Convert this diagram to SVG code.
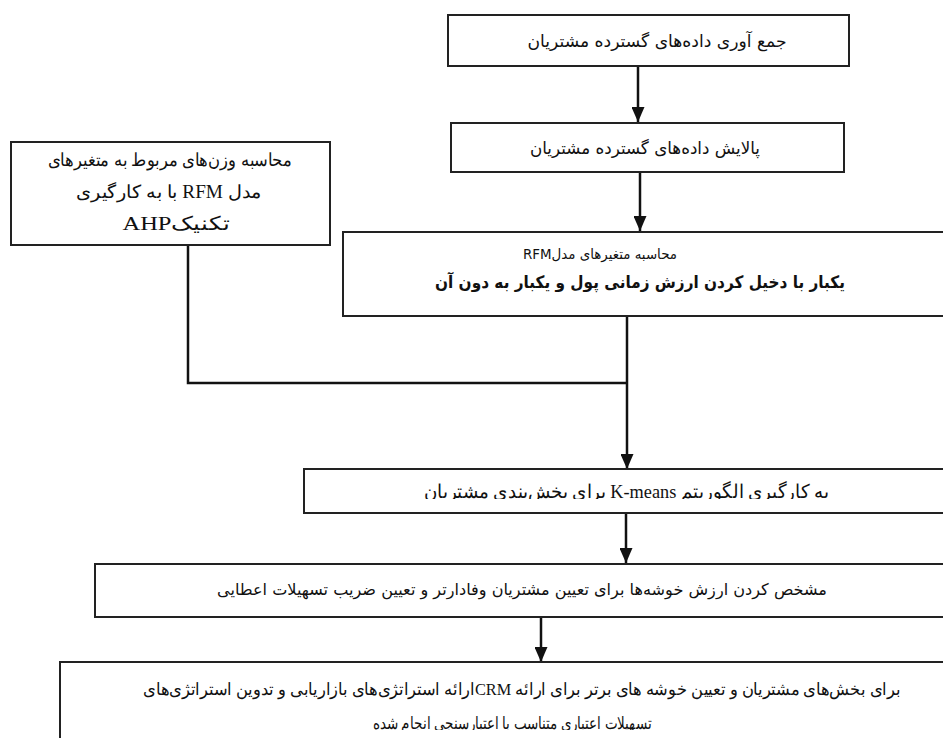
<svg xmlns="http://www.w3.org/2000/svg" width="943" height="738" viewBox="0 0 943 738">
<defs>
<style>
.box{fill:#fff;stroke:#222;stroke-width:2}
.ln{fill:none;stroke:#111;stroke-width:2.5}
.sans{font-family:"DejaVu Sans","Noto Sans",sans-serif;fill:#111}
.ser{font-family:"Liberation Serif","DejaVu Serif",serif;fill:#111}
</style>
<marker id="ah" viewBox="0 0 10 10" refX="10" refY="5" markerWidth="6" markerHeight="5.2" markerUnits="strokeWidth" orient="auto" preserveAspectRatio="none">
<path d="M0,0 L10,5 L0,10 Z" fill="#111"/>
</marker>
<clipPath id="ck"><rect x="300" y="465" width="650" height="34"/></clipPath>
<clipPath id="c7"><rect x="55" y="655" width="890" height="75"/></clipPath>
</defs>
<rect width="943" height="738" fill="#fff"/>
<g id="connectors">
<line class="ln" x1="638" y1="67" x2="638" y2="122" marker-end="url(#ah)"/>
<line class="ln" x1="640" y1="173" x2="640" y2="231" marker-end="url(#ah)"/>
<polyline class="ln" points="188,245 188,383 627,383"/>
<line class="ln" x1="627" y1="317" x2="627" y2="469" marker-end="url(#ah)"/>
<line class="ln" x1="626" y1="514" x2="626" y2="563" marker-end="url(#ah)"/>
<line class="ln" x1="541" y1="618" x2="541" y2="662" marker-end="url(#ah)"/>
</g>
<g id="n1">
<rect class="box" x="448" y="15" width="401" height="51"/>
<text class="sans" x="657" y="47" font-size="17" text-anchor="middle" direction="rtl" textLength="259" lengthAdjust="spacingAndGlyphs">جمع آوری داده‌های گسترده مشتریان</text>
</g>
<g id="n2">
<rect class="box" x="451" y="123" width="393" height="49"/>
<text class="sans" x="645" y="154" font-size="17" text-anchor="middle" direction="rtl" textLength="230" lengthAdjust="spacingAndGlyphs">پالایش داده‌های گسترده مشتریان</text>
</g>
<g id="n3">
<path class="box" d="M946,232 L343,232 L343,316 L946,316"/>
<text class="sans" x="600" y="259" font-size="14" text-anchor="middle" direction="rtl" textLength="154" lengthAdjust="spacingAndGlyphs">محاسبه متغیرهای مدلRFM</text>
<text class="sans" x="640" y="288" font-size="17" font-weight="bold" text-anchor="middle" direction="rtl" textLength="410" lengthAdjust="spacingAndGlyphs">یکبار با دخیل کردن ارزش زمانی پول و یکبار به دون آن</text>
</g>
<g id="n4">
<rect class="box" x="11" y="142" width="319" height="103"/>
<text class="ser" x="170" y="166" font-size="18" text-anchor="middle" direction="rtl" textLength="245" lengthAdjust="spacingAndGlyphs">محاسبه وزن‌های مربوط به متغیرهای</text>
<text class="ser" x="169" y="198" font-size="18" text-anchor="middle" direction="rtl" textLength="186" lengthAdjust="spacingAndGlyphs">مدل RFM با به کارگیری</text>
<text class="ser" x="176" y="230" font-size="19" text-anchor="middle" direction="rtl" textLength="107" lengthAdjust="spacingAndGlyphs">تکنیکAHP</text>
</g>
<g id="n5">
<path class="box" d="M946,469 L304,469 L304,513 L946,513"/>
<text class="ser" x="626" y="498" font-size="19" text-anchor="middle" direction="rtl" clip-path="url(#ck)" textLength="405" lengthAdjust="spacingAndGlyphs">به کارگیری الگوریتم K-means برای بخش‌بندی مشتریان</text>
</g>
<g id="n6">
<path class="box" d="M946,564 L95,564 L95,617 L946,617"/>
<text class="sans" x="522" y="595" font-size="16" text-anchor="middle" direction="rtl" textLength="610" lengthAdjust="spacingAndGlyphs">مشخص کردن ارزش خوشه‌ها برای تعیین مشتریان وفادارتر و تعیین ضریب تسهیلات اعطایی</text>
</g>
<g id="n7">
<path class="box" d="M946,662 L60,662 L60,740"/>
<text class="ser" x="522" y="695" font-size="17" text-anchor="middle" direction="rtl" textLength="757" lengthAdjust="spacingAndGlyphs">برای بخش‌های مشتریان و تعیین خوشه های برتر برای ارائه CRMارائه استراتژی‌های بازاریابی و تدوین استراتژی‌های</text>
<text class="ser" x="512" y="729" font-size="17" text-anchor="middle" direction="rtl" clip-path="url(#c7)" textLength="279" lengthAdjust="spacingAndGlyphs">تسهیلات اعتباری متناسب با اعتبارسنجی انجام شده</text>
</g>
</svg>
